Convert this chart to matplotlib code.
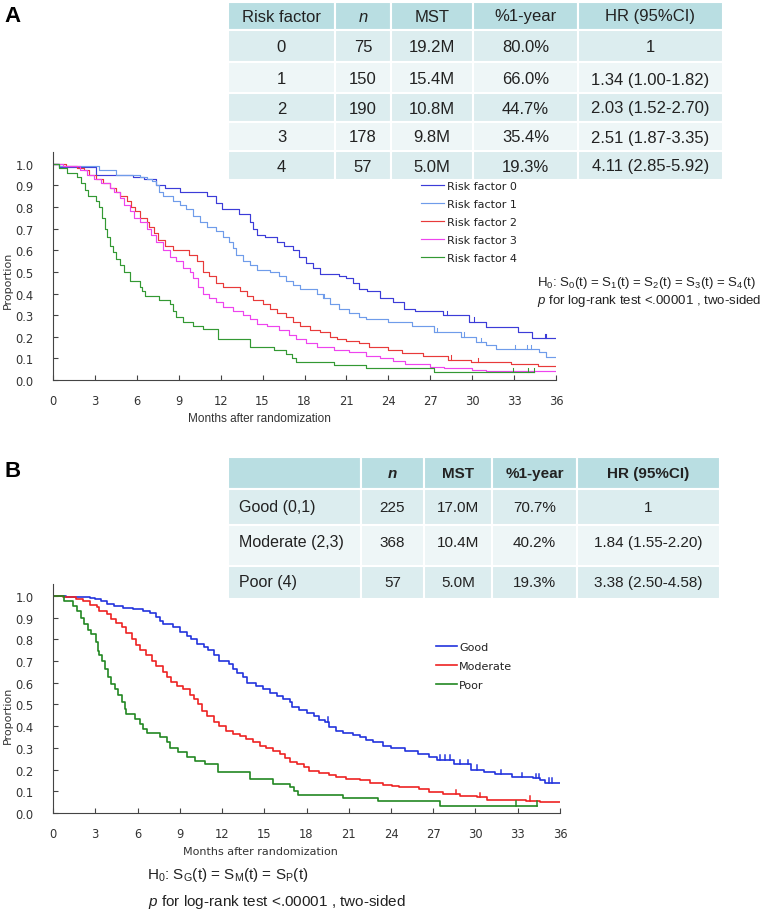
import numpy as np
import matplotlib
matplotlib.use("Agg")
import matplotlib.pyplot as plt
from matplotlib.patches import Rectangle

plt.rcParams['font.family'] = ['Liberation Sans', 'DejaVu Sans']
plt.rcParams['mathtext.fontset'] = 'custom'
plt.rcParams['mathtext.rm'] = 'Liberation Sans'
plt.rcParams['mathtext.it'] = 'Liberation Sans:italic'

# ---------------- panel A data ----------------
tbl_a_head = ["Risk factor", "n", "MST", "%1-year", "HR (95%CI)"]
risk_factor = ["0", "1", "2", "3", "4"]
n_a = ["75", "150", "190", "178", "57"]
mst_a = ["19.2M", "15.4M", "10.8M", "9.8M", "5.0M"]
year1_a = ["80.0%", "66.0%", "44.7%", "35.4%", "19.3%"]
hr_a = ["1", "1.34 (1.00-1.82)", "2.03 (1.52-2.70)", "2.51 (1.87-3.35)", "4.11 (2.85-5.92)"]

t_rf0 = [0, 0.4, 3.1, 5.7, 6.5, 7.4, 8.0, 9.1, 11.0, 11.7, 12.1, 13.3, 14.1, 14.3, 14.6, 15.2, 16.0, 16.5,
         17.2, 17.6, 18.1, 18.6, 19.1, 20.5, 21.0, 21.5, 21.9, 22.5, 23.4, 24.3, 25.1, 25.9, 27.9, 29.8,
         31.0, 33.3, 34.3]
s_rf0 = [1.0, 0.987, 0.95, 0.94, 0.93, 0.90, 0.89, 0.87, 0.85, 0.82, 0.79, 0.77, 0.73, 0.70, 0.67, 0.66,
         0.64, 0.62, 0.60, 0.57, 0.54, 0.52, 0.49, 0.48, 0.47, 0.45, 0.42, 0.41, 0.38, 0.36, 0.33, 0.32,
         0.30, 0.27, 0.245, 0.22, 0.195]
c_rf0 = [28.2, 30.1, 35.2, 35.3]

t_rf1 = [0, 0.4, 3.3, 4.5, 6.2, 6.7, 7.1, 7.4, 7.6, 7.9, 8.6, 9.1, 9.5, 10.0, 10.5, 11.0, 11.7, 12.2, 12.6,
         12.9, 13.1, 13.6, 14.1, 14.6, 15.5, 16.2, 16.7, 17.2, 17.7, 18.9, 19.3, 19.8, 20.5, 21.2, 21.9,
         22.4, 24.0, 25.7, 27.3, 29.2, 30.3, 31.0, 31.7, 34.8, 35.3]
s_rf1 = [1.0, 0.99, 0.97, 0.95, 0.94, 0.93, 0.92, 0.90, 0.87, 0.85, 0.83, 0.81, 0.79, 0.76, 0.73, 0.71,
         0.69, 0.66, 0.64, 0.61, 0.58, 0.55, 0.53, 0.51, 0.50, 0.48, 0.46, 0.44, 0.42, 0.40, 0.38, 0.35,
         0.33, 0.31, 0.29, 0.28, 0.27, 0.25, 0.22, 0.20, 0.175, 0.16, 0.143, 0.13, 0.108]
c_rf1 = [19.4, 27.3, 27.5, 29.4, 30.6, 33.1, 33.9, 34.2]

t_rf2 = [0, 0.9, 1.7, 2.2, 2.6, 3.1, 3.6, 4.1, 4.5, 4.8, 5.3, 5.6, 5.9, 6.2, 6.7, 6.9, 7.2, 7.5, 8.0, 8.6,
         9.7, 10.3, 10.7, 11.2, 11.7, 12.2, 13.4, 13.9, 14.3, 15.0, 15.5, 16.0, 16.7, 17.2, 17.7, 18.4,
         19.1, 19.8, 20.3, 21.0, 21.9, 22.6, 24.0, 25.0, 26.5, 28.3, 29.9, 32.8, 34.7]
s_rf2 = [1.0, 0.99, 0.98, 0.97, 0.95, 0.93, 0.91, 0.89, 0.87, 0.85, 0.83, 0.80, 0.78, 0.75, 0.73, 0.71,
         0.68, 0.65, 0.62, 0.60, 0.58, 0.55, 0.50, 0.48, 0.45, 0.43, 0.41, 0.39, 0.37, 0.35, 0.33, 0.31,
         0.29, 0.27, 0.25, 0.23, 0.22, 0.20, 0.19, 0.18, 0.17, 0.155, 0.14, 0.125, 0.113, 0.094, 0.082,
         0.074, 0.065]
c_rf2 = [28.5, 30.4]

t_rf3 = [0, 0.7, 1.9, 2.4, 2.9, 3.4, 4.1, 4.4, 4.8, 5.1, 5.5, 5.8, 6.2, 6.7, 7.0, 7.4, 7.9, 8.4, 8.8, 9.3,
         9.8, 10.0, 10.4, 10.7, 11.2, 11.7, 12.2, 12.9, 13.6, 14.1, 14.6, 15.3, 16.2, 16.9, 17.4, 18.1,
         18.9, 20.1, 21.2, 22.4, 23.4, 24.3, 25.2, 27.0, 28.0, 30.0, 31.0]
s_rf3 = [1.0, 0.99, 0.97, 0.95, 0.93, 0.91, 0.89, 0.87, 0.84, 0.81, 0.78, 0.75, 0.73, 0.70, 0.67, 0.64,
         0.60, 0.57, 0.55, 0.52, 0.50, 0.47, 0.43, 0.40, 0.38, 0.36, 0.34, 0.32, 0.30, 0.28, 0.26, 0.25,
         0.23, 0.21, 0.19, 0.17, 0.155, 0.14, 0.13, 0.11, 0.10, 0.09, 0.075, 0.062, 0.055, 0.045, 0.04]
c_rf3 = []

t_rf4 = [0, 0.4, 1.0, 1.7, 2.0, 2.3, 2.5, 3.1, 3.3, 3.5, 3.7, 3.9, 4.1, 4.3, 4.5, 4.8, 5.1, 5.5, 6.2, 6.4,
         6.6, 7.6, 8.4, 8.6, 8.8, 9.3, 10.0, 10.7, 11.8, 14.1, 15.8, 16.7, 17.1, 17.4, 20.1, 22.4, 27.3]
s_rf4 = [1.0, 0.98, 0.96, 0.94, 0.91, 0.88, 0.85, 0.83, 0.80, 0.75, 0.70, 0.66, 0.62, 0.59, 0.56, 0.53,
         0.50, 0.46, 0.43, 0.41, 0.39, 0.37, 0.35, 0.32, 0.29, 0.27, 0.25, 0.235, 0.19, 0.155, 0.14, 0.12,
         0.10, 0.085, 0.07, 0.055, 0.037]
c_rf4 = [32.9, 34.0, 34.4]

# ---------------- panel B data ----------------
tbl_b_head = ["", "n", "MST", "%1-year", "HR (95%CI)"]
groups_b = ["Good (0,1)", "Moderate (2,3)", "Poor (4)"]
n_b = ["225", "368", "57"]
mst_b = ["17.0M", "10.4M", "5.0M"]
year1_b = ["70.7%", "40.2%", "19.3%"]
hr_b = ["1", "1.84 (1.55-2.20)", "3.38 (2.50-4.58)"]

t_good = [0, 0.95, 2.6, 3.0, 3.4, 3.8, 4.3, 5.0, 5.7, 6.4, 6.9, 7.3, 7.6, 7.8, 8.5, 9.0, 9.5, 9.8, 10.2,
          10.7, 11.0, 11.4, 11.8, 12.5, 12.8, 13.1, 13.5, 13.8, 14.4, 14.9, 15.4, 15.9, 16.3, 16.8, 17.0,
          17.5, 18.0, 18.5, 18.9, 19.3, 19.6, 20.1, 20.6, 21.3, 21.8, 22.2, 22.7, 23.4, 24.0, 25.0, 25.9,
          26.7, 27.3, 28.5, 29.7, 30.6, 31.4, 32.6, 34.1, 34.6, 34.9]
s_good = [1.0, 0.995, 0.99, 0.985, 0.975, 0.965, 0.955, 0.945, 0.94, 0.93, 0.92, 0.905, 0.885, 0.87,
          0.855, 0.835, 0.815, 0.80, 0.78, 0.765, 0.75, 0.73, 0.70, 0.685, 0.665, 0.645, 0.625, 0.60,
          0.585, 0.57, 0.555, 0.54, 0.525, 0.51, 0.49, 0.475, 0.46, 0.445, 0.43, 0.42, 0.395, 0.38, 0.37,
          0.36, 0.35, 0.335, 0.325, 0.31, 0.30, 0.285, 0.272, 0.26, 0.245, 0.225, 0.20, 0.19, 0.18, 0.165,
          0.16, 0.15, 0.14]
c_good = [19.5, 27.5, 27.8, 28.2, 28.9, 29.5, 30.1, 31.8, 33.3, 34.3, 34.5, 35.2, 35.4]

t_mod = [0, 0.7, 1.6, 2.1, 2.6, 3.1, 3.3, 3.8, 4.1, 4.5, 4.9, 5.2, 5.6, 5.9, 6.2, 6.6, 7.0, 7.3, 7.8, 8.1,
         8.4, 8.8, 9.2, 9.7, 10.0, 10.3, 10.6, 10.9, 11.4, 11.8, 12.3, 12.8, 13.3, 13.7, 14.2, 14.7, 15.1,
         15.6, 16.1, 16.5, 16.8, 17.3, 17.8, 18.2, 18.9, 19.6, 20.1, 20.8, 21.8, 22.5, 23.4, 24.1, 24.6,
         26.0, 26.7, 27.7, 28.9, 30.1, 30.8, 33.6, 34.6]
s_mod = [1.0, 0.995, 0.985, 0.975, 0.96, 0.95, 0.93, 0.915, 0.895, 0.875, 0.855, 0.83, 0.80, 0.775, 0.75,
         0.73, 0.70, 0.675, 0.65, 0.625, 0.605, 0.585, 0.57, 0.545, 0.525, 0.50, 0.47, 0.445, 0.42, 0.40,
         0.38, 0.365, 0.355, 0.34, 0.325, 0.31, 0.30, 0.285, 0.27, 0.255, 0.235, 0.225, 0.21, 0.195, 0.185,
         0.175, 0.165, 0.155, 0.15, 0.14, 0.13, 0.126, 0.118, 0.11, 0.095, 0.087, 0.08, 0.072, 0.062,
         0.057, 0.052]
c_mod = [28.6, 30.3, 33.9]

t_poor = [0, 0.8, 1.4, 1.7, 2.0, 2.2, 2.5, 2.7, 3.05, 3.2, 3.3, 3.5, 3.7, 3.9, 4.1, 4.4, 4.6, 4.9, 5.1, 5.2,
          5.8, 6.2, 6.4, 6.7, 7.6, 8.1, 8.3, 8.9, 9.5, 10.1, 10.8, 11.7, 14.0, 15.6, 16.8, 17.1, 17.4,
          20.6, 23.1, 27.5]
s_poor = [1.0, 0.975, 0.955, 0.93, 0.90, 0.87, 0.845, 0.825, 0.79, 0.745, 0.73, 0.70, 0.665, 0.625, 0.595,
          0.57, 0.545, 0.51, 0.48, 0.455, 0.435, 0.41, 0.385, 0.37, 0.35, 0.325, 0.30, 0.28, 0.26, 0.24,
          0.225, 0.19, 0.155, 0.135, 0.12, 0.10, 0.085, 0.07, 0.054, 0.034]
c_poor = [32.9, 34.4]

W, H = 765, 912
fig = plt.figure(figsize=(W / 100, H / 100), dpi=100)

# overlay in pixel coordinates for tables / labels
ov = fig.add_axes([0, 0, 1, 1], zorder=0)
ov.set_xlim(0, W)
ov.set_ylim(H, 0)
ov.axis("off")


def surv_at(t, times, surv):
    i = np.searchsorted(times, t, side="right") - 1
    return surv[max(i, 0)]


def km(ax, times, surv, end, cens, color, lw, label):
    x = list(times) + [end]
    y = list(surv) + [surv[-1]]
    ax.step(x, y, where="post", color=color, lw=lw, label=label)
    for c in cens:
        v = surv_at(c, times, surv)
        ax.plot([c, c], [v, v + 0.02], color=color, lw=lw * 0.9)


def style_axes(ax):
    ax.set_xlim(0, 36)
    ax.set_ylim(0, 1.055)
    ax.set_xticks(np.arange(0, 37, 3))
    ax.set_yticks(np.arange(0, 1.01, 0.1))
    ax.set_yticklabels(["%.1f" % v for v in np.arange(0, 1.01, 0.1)])
    for s in ["top", "right"]:
        ax.spines[s].set_visible(False)
    for s in ["left", "bottom"]:
        ax.spines[s].set_color("#444444")
        ax.spines[s].set_linewidth(0.8)
    ax.tick_params(direction="in", length=3.5, width=0.8, color="#444444",
                   labelsize=8.3, labelcolor="#333333")
    ax.tick_params(axis="x", pad=10)
    ax.tick_params(axis="y", pad=14)
    for lab in ax.get_xticklabels() + ax.get_yticklabels():
        lab.set_family("DejaVu Sans")
    ax.set_facecolor("none")


def draw_table(cols, rows_y, nrows, row_colors):
    ncol = len(cols) - 1
    for j in range(ncol):
        ov.add_patch(Rectangle((cols[j], rows_y[0]), cols[j + 1] - cols[j], rows_y[1] - rows_y[0],
                               facecolor="#b9dee2", edgecolor="white", lw=1.5))
    for i in range(nrows):
        for j in range(ncol):
            ov.add_patch(Rectangle((cols[j], rows_y[i + 1]), cols[j + 1] - cols[j],
                                   rows_y[i + 2] - rows_y[i + 1],
                                   facecolor=row_colors[i % 2], edgecolor="white", lw=1.5))


# ---------------- panel A ----------------
ov.text(13, 16, "A", fontsize=16, fontweight="bold", ha="center", va="center")

cols_a = [228, 335, 391, 473, 578, 723]
rows_a = [3, 31, 63, 94, 123, 152, 181]
text_y_a = [17, 48, 80, 109, 138, 167]
body_a = list(zip(risk_factor, n_a, mst_a, year1_a, hr_a))
draw_table(cols_a, rows_a, len(body_a), ["#dcedef", "#eef6f7"])
for j, h in enumerate(tbl_a_head):
    cx = (cols_a[j] + cols_a[j + 1]) / 2
    ov.text(cx, text_y_a[0], h, fontsize=12, ha="center", va="center", color="#222222",
            fontstyle="italic" if h == "n" else "normal")
for i, row in enumerate(body_a):
    for j, val in enumerate(row):
        cx = (cols_a[j] + cols_a[j + 1]) / 2
        ov.text(cx, text_y_a[i + 1], val, fontsize=12, ha="center", va="center", color="#222222")

ax_a = fig.add_axes([53 / W, 1 - 381 / H, 503 / W, 228 / H], zorder=2)
km(ax_a, t_rf0, s_rf0, 36, c_rf0, "#3c3cd8", 0.85, "Risk factor 0")
km(ax_a, t_rf1, s_rf1, 36, c_rf1, "#6f9cea", 0.85, "Risk factor 1")
km(ax_a, t_rf2, s_rf2, 36, c_rf2, "#e83a3a", 0.85, "Risk factor 2")
km(ax_a, t_rf3, s_rf3, 36, c_rf3, "#ee44ee", 0.85, "Risk factor 3")
km(ax_a, t_rf4, s_rf4, 34.4, c_rf4, "#339933", 0.85, "Risk factor 4")
style_axes(ax_a)
ov.text(8, 280, "Proportion", fontsize=8, family="DejaVu Sans", color="#333333",
        rotation=90, ha="center", va="center")
ov.text(259, 419, "Months after randomization", fontsize=8.5, ha="center", va="center", color="#333333")
leg = ax_a.legend(loc="upper left", bbox_to_anchor=(421 / W, 1 - 182 / H), bbox_transform=fig.transFigure,
                  frameon=False, borderpad=0, borderaxespad=0, handlelength=2.1, handletextpad=0.2,
                  labelspacing=0.72, prop={"family": "DejaVu Sans", "size": 8})
for t in leg.get_texts():
    t.set_color("#222222")
ov.text(537, 283, r"H$_0$: S$_0$(t) = S$_1$(t) = S$_2$(t) = S$_3$(t) = S$_4$(t)", fontsize=9.5,
        ha="left", va="center", color="#222222")
ov.text(537, 301, r"$p$ for log-rank test <.00001 , two-sided", fontsize=9.5,
        ha="left", va="center", color="#222222")

# ---------------- panel B ----------------
ov.text(13, 472, "B", fontsize=16, fontweight="bold", ha="center", va="center")

cols_b = [228, 361, 424, 492, 577, 720]
rows_b = [458, 490, 526, 567, 600]
text_y_b = [474, 508, 543, 583]
body_b = list(zip(groups_b, n_b, mst_b, year1_b, hr_b))
draw_table(cols_b, rows_b, len(body_b), ["#dcedef", "#eef6f7"])
for j, h in enumerate(tbl_b_head):
    cx = (cols_b[j] + cols_b[j + 1]) / 2
    ov.text(cx, text_y_b[0], h, fontsize=11, ha="center", va="center", color="#222222",
            fontweight="bold", fontstyle="italic" if h == "n" else "normal")
for i, row in enumerate(body_b):
    for j, val in enumerate(row):
        if j == 0:
            ov.text(cols_b[0] + 11, text_y_b[i + 1], val, fontsize=11.5, ha="left", va="center",
                    color="#222222")
        else:
            cx = (cols_b[j] + cols_b[j + 1]) / 2
            ov.text(cx, text_y_b[i + 1], val, fontsize=11, ha="center", va="center", color="#222222")

ax_b = fig.add_axes([53 / W, 1 - 814 / H, 507 / W, 229 / H], zorder=2)
km(ax_b, t_good, s_good, 36, c_good, "#2233dd", 1.2, "Good")
km(ax_b, t_mod, s_mod, 36, c_mod, "#ee2222", 1.2, "Moderate")
km(ax_b, t_poor, s_poor, 34.4, c_poor, "#228822", 1.2, "Poor")
style_axes(ax_b)
ov.text(8, 715, "Proportion", fontsize=8, family="DejaVu Sans", color="#333333",
        rotation=90, ha="center", va="center")
ov.text(260, 852, "Months after randomization", fontsize=8, ha="center", va="center",
        color="#333333", family="DejaVu Sans")
leg = ax_b.legend(loc="upper left", bbox_to_anchor=(436 / W, 1 - 643 / H), bbox_transform=fig.transFigure,
                  frameon=False, borderpad=0, borderaxespad=0, handlelength=1.9, handletextpad=0.2,
                  labelspacing=0.8, prop={"family": "DejaVu Sans", "size": 8})
for t in leg.get_texts():
    t.set_color("#222222")
ov.text(147, 875, r"H$_0$: S$_{\rm G}$(t) = S$_{\rm M}$(t) = S$_{\rm P}$(t)", fontsize=11,
        ha="left", va="center", color="#222222")
ov.text(148, 902, r"$p$ for log-rank test <.00001 , two-sided", fontsize=11,
        ha="left", va="center", color="#222222")

fig.savefig("out.png", dpi=100)
